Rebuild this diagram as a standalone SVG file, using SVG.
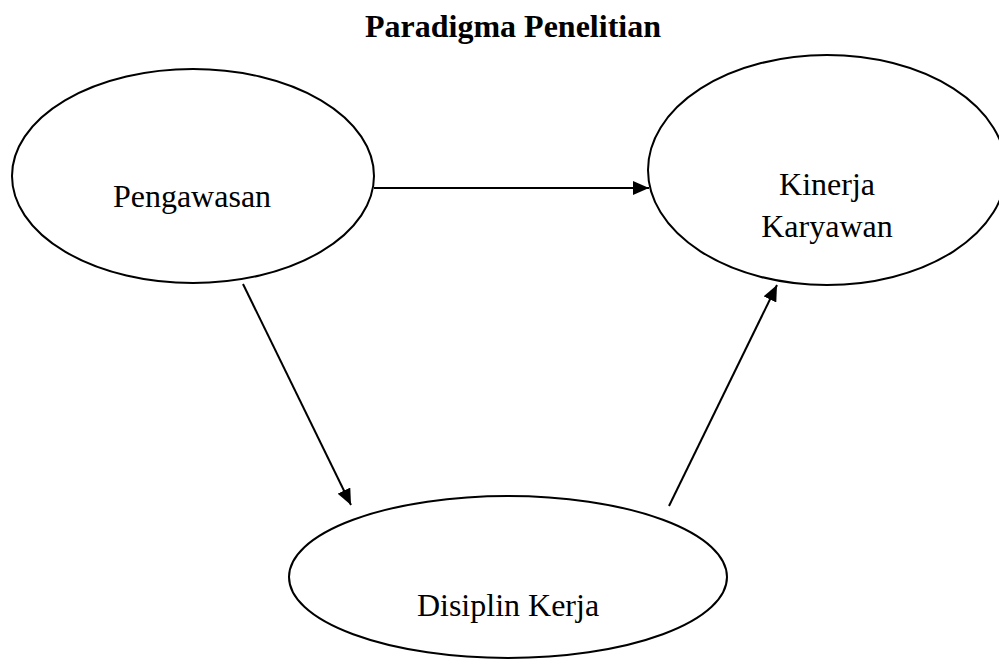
<svg xmlns="http://www.w3.org/2000/svg" width="999" height="669" viewBox="0 0 999 669">
<style>
.node{fill:#fff;stroke:#000;stroke-width:2}
.lbl{font-family:"Liberation Serif","Times New Roman",serif;font-size:32px;fill:#000;text-anchor:middle}
.title{font-weight:bold}
.conn{stroke:#000;stroke-width:2;fill:none;marker-end:url(#arr)}
</style>
<defs>
<marker id="arr" viewBox="0 0 16 14" refX="16" refY="7" markerWidth="16" markerHeight="14" markerUnits="userSpaceOnUse" orient="auto">
<path d="M0,0 L16,7 L0,14 Z" fill="#000"/>
</marker>
</defs>
<rect width="999" height="669" fill="#fff"/>
<text class="lbl title" x="513" y="37">Paradigma Penelitian</text>
<g id="pengawasan">
<ellipse class="node" cx="193" cy="176" rx="181" ry="107"/>
<text class="lbl" x="192" y="207">Pengawasan</text>
</g>
<g id="kinerja">
<ellipse class="node" cx="827" cy="170" rx="179" ry="115"/>
<text class="lbl" x="827" y="195">Kinerja</text>
<text class="lbl" x="827" y="237">Karyawan</text>
</g>
<g id="disiplin">
<ellipse class="node" cx="508" cy="577" rx="219" ry="81"/>
<text class="lbl" x="508" y="616">Disiplin Kerja</text>
</g>
<g id="connectors">
<line class="conn" x1="374" y1="188" x2="649" y2="188"/>
<line class="conn" x1="243" y1="284" x2="351" y2="505"/>
<line class="conn" x1="669" y1="506" x2="777" y2="285"/>
</g>
</svg>
